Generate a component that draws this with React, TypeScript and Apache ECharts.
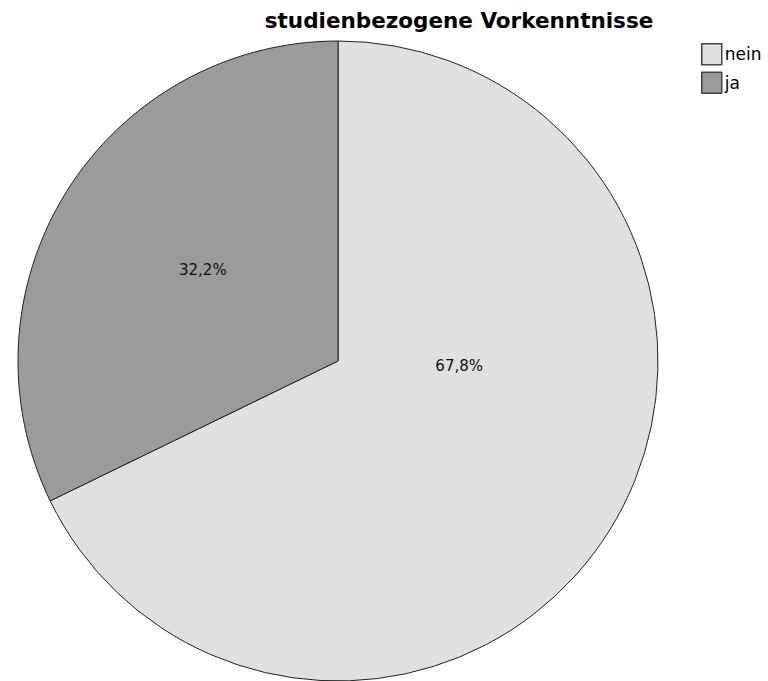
import React, { useEffect, useRef } from "react";
import * as echarts from "echarts";

const title = "studienbezogene Vorkenntnisse";
const categories = ["nein", "ja"];
const percents = [67.8, 32.2];
const colors = ["#e0e0e0", "#9b9b9b"];
const labelShift = [
  [-17, -81],
  [3, -5],
];

const FONT = "DejaVu Sans, Arial, sans-serif";

export default function App() {
  const ref = useRef<HTMLDivElement>(null);
  useEffect(() => {
    document.body.style.margin = "0";
    const chart = echarts.init(ref.current!, null, { renderer: "svg" });
    chart.setOption({
      animation: false,
      backgroundColor: "#ffffff",
      title: {
        text: title,
        left: 454,
        textAlign: "center",
        top: 4,
        textStyle: {
          fontFamily: FONT,
          fontSize: 21.5,
          fontWeight: "bold",
          color: "#000",
        },
      },
      legend: {
        orient: "vertical",
        left: 696,
        top: 38,
        icon: "rect",
        itemWidth: 20,
        itemHeight: 21,
        itemGap: 6,
        data: categories,
        itemStyle: { borderColor: "#444", borderWidth: 1.5 },
        textStyle: {
          fontFamily: FONT,
          fontSize: 17,
          color: "#000",
          padding: [3, 0, 0, -2],
        },
      },
      series: [
        {
          type: "pie",
          center: [338, 361],
          radius: 320,
          startAngle: 90,
          clockwise: true,
          silent: true,
          itemStyle: { borderColor: "#222", borderWidth: 1 },
          label: {
            position: "inside",
            formatter: (p: any) => p.value.toFixed(1).replace(".", ",") + "%",
            fontFamily: FONT,
            fontSize: 15,
            color: "#111",
          },
          labelLayout: (p: any) => ({
            dx: labelShift[p.dataIndex][0],
            dy: labelShift[p.dataIndex][1],
          }),
          data: categories.map((c, i) => ({
            name: c,
            value: percents[i],
            itemStyle: { color: colors[i] },
          })),
        },
      ],
    });
    return () => chart.dispose();
  }, []);
  return <div ref={ref} style={{ width: 768, height: 681 }} />;
}
